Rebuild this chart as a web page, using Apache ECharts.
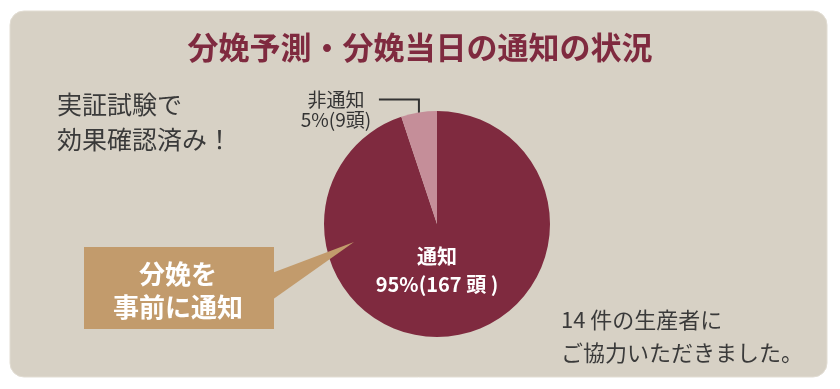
<!DOCTYPE html>
<html><head><meta charset="utf-8">
<script src="https://cdn.jsdelivr.net/npm/echarts@6/dist/echarts.min.js"></script>
<style>html,body{margin:0;padding:0;background:#fff}#c{width:840px;height:389px}</style>
</head><body><div id="c"></div>
<script>
const categories = ['通知', '非通知'];
const heads = [167, 9];
const percentLabels = ['95%', '5%'];
const titleText = '分娩予測・分娩当日の通知の状況';
const noteLeft = ['実証試験で', '効果確認済み！'];
const noteRight = ['14 件の生産者に', 'ご協力いただきました。'];
const calloutLines = ['分娩を', '事前に通知'];

const FONT = '"Noto Sans CJK JP", "Noto Sans", sans-serif';
const MAROON = '#7f2a3f';
const PINK = '#c58e99';
const TAN = '#c29b6c';

const chart = echarts.init(document.getElementById('c'), null, {renderer: 'canvas'});

const data = categories.map((name, i) => ({
  name: name,
  value: heads[i],
  itemStyle: {color: i === 0 ? MAROON : PINK},
  label: i === 0 ? {
    position: 'center',
    formatter: '{a|' + name + '}\n{a|' + percentLabels[i] + '(' + heads[i] + ' 頭 )}',
    rich: {a: {color: '#fff', fontSize: 20, fontWeight: 'bold', fontFamily: FONT, lineHeight: 28, align: 'center'}}
  } : {
    position: 'outside',
    formatter: '{a|' + name + '}\n{a|' + percentLabels[i] + '(' + heads[i] + '頭)}',
    rich: {a: {color: '#333', fontSize: 19, fontFamily: FONT, lineHeight: 20, width: 82, align: 'center'}}
  },
  labelLine: {show: i !== 0, lineStyle: {color: '#333', width: 2}}
}));

chart.setOption({
  backgroundColor: '#fff',
  animation: false,
  title: {
    text: titleText,
    left: 'center',
    top: 27,
    textStyle: {color: MAROON, fontSize: 31, fontWeight: 'bold', fontFamily: FONT}
  },
  graphic: [
    {type: 'rect', z: -10, shape: {x: 10, y: 11, width: 817, height: 366, r: 14},
      style: {fill: '#d7d1c5', stroke: '#e2ddd3', lineWidth: 1}},
    {type: 'text', z: 5, style: {text: noteLeft.join('\n'), x: 57, y: 87, font: '25px ' + FONT,
      lineHeight: 35, fill: '#3a3a3a', textVerticalAlign: 'top', verticalAlign: 'top'}},
    {type: 'text', z: 5, style: {text: noteRight.join('\n'), x: 561, y: 303, font: '22px ' + FONT,
      lineHeight: 33, fill: '#3a3a3a', textVerticalAlign: 'top', verticalAlign: 'top'}},
    {type: 'polygon', z: 10, shape: {points: [[272, 273], [354, 242], [272, 300]]}, style: {fill: TAN}},
    {type: 'rect', z: 10, shape: {x: 84, y: 247, width: 190, height: 82}, style: {fill: TAN}},
    {type: 'text', z: 11, style: {text: calloutLines.join('\n'), x: 178, y: 258, font: 'bold 26px ' + FONT,
      lineHeight: 33, fill: '#fff', align: 'center', textAlign: 'center', verticalAlign: 'top', textVerticalAlign: 'top'}}
  ],
  series: [{
    type: 'pie',
    center: [437, 224],
    radius: [0, 113],
    startAngle: 90,
    clockwise: true,
    silent: true,
    emphasis: {disabled: true},
    itemStyle: {borderWidth: 0},
    data: data,
    labelLayout: function (p) {
      if (p.dataIndex === 0) {
        return {dy: 46};
      }
      const s = p.labelLinePoints[0];
      const topY = s[1] - 13;
      const endX = s[0] - 40;
      return {
        x: endX - 2,
        y: topY - 10,
        align: 'right',
        verticalAlign: 'top',
        labelLinePoints: [[s[0], s[1] + 8], [s[0], topY], [endX, topY]]
      };
    }
  }]
});
</script></body></html>
